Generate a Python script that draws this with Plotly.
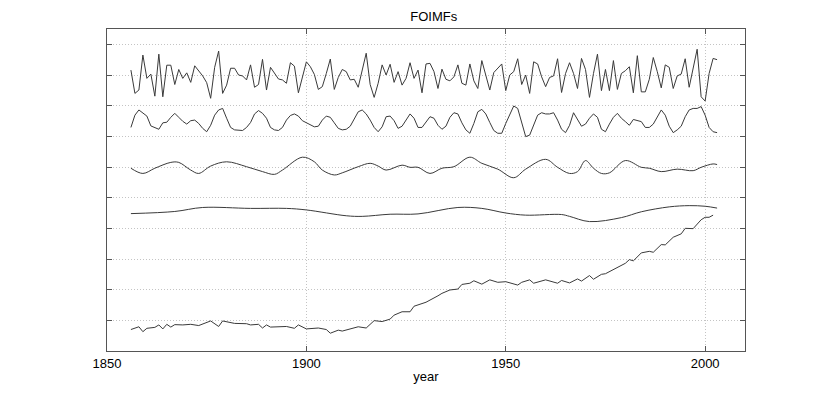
import plotly.graph_objects as go

# years of the annual series
years = list(range(1856, 2004))

# первая мода (самая высокочастотная), 1856-2003
imf1 = [
    9.16, 8.40, 8.51, 9.65,
    8.89, 9.03, 8.31, 9.68, 8.29, 9.32, 9.32, 8.69, 9.18, 8.89,
    9.07, 8.76, 9.30, 9.14, 8.97, 8.75, 8.24, 9.25, 9.78, 8.40,
    8.67, 9.22, 9.22, 9.00, 8.97, 8.84, 9.33, 8.60, 8.69, 9.51,
    8.51, 9.25, 9.05, 8.87, 8.84, 8.73, 9.40, 9.29, 8.42, 8.97,
    9.43, 9.27, 9.02, 8.53, 8.62, 9.05, 9.52, 8.53, 8.92, 9.18,
    9.11, 8.84, 8.86, 8.60, 9.18, 9.71, 8.69, 8.27, 8.73, 9.33,
    9.00, 9.35, 8.76, 9.11, 8.67, 8.89, 9.40, 8.89, 9.16, 8.42,
    9.36, 9.38, 9.11, 8.56, 9.19, 8.86, 8.81, 8.94, 9.33, 8.73,
    8.67, 9.36, 8.81, 8.56, 9.47, 8.94, 8.51, 9.08, 9.22, 9.36,
    8.49, 9.00, 9.11, 9.53, 8.69, 9.00, 8.40, 9.43, 9.36, 8.94,
    8.62, 8.92, 8.97, 9.53, 8.43, 9.05, 9.40, 9.05, 8.56, 9.54,
    9.18, 8.27, 9.05, 9.68, 8.49, 9.18, 8.49, 9.47, 8.53, 9.05,
    9.14, 9.27, 8.42, 9.63, 8.45, 8.45, 8.86, 9.57, 9.11, 8.58,
    9.33, 9.25, 8.56, 8.97, 9.03, 9.53, 8.60, 9.25, 9.84, 8.29,
    8.15, 9.05, 9.54, 9.50,
]

# вторая мода, 1856-2003
imf2 = [
    7.29, 7.69, 7.86, 7.77,
    7.66, 7.34, 7.29, 7.23, 7.44, 7.46, 7.62, 7.75, 7.62, 7.49,
    7.40, 7.51, 7.53, 7.42, 7.26, 7.15, 7.36, 7.69, 7.86, 7.91,
    7.59, 7.29, 7.21, 7.19, 7.19, 7.29, 7.45, 7.73, 7.84, 7.75,
    7.59, 7.29, 7.21, 7.19, 7.29, 7.53, 7.68, 7.73, 7.66, 7.51,
    7.44, 7.36, 7.31, 7.33, 7.53, 7.66, 7.62, 7.44, 7.26, 7.21,
    7.23, 7.33, 7.55, 7.80, 7.86, 7.73, 7.53, 7.29, 7.15, 7.31,
    7.64, 7.66, 7.51, 7.26, 7.33, 7.55, 7.73, 7.59, 7.29, 7.29,
    7.48, 7.64, 7.59, 7.36, 7.23, 7.33, 7.62, 7.77, 7.73, 7.44,
    7.21, 7.10, 7.42, 7.80, 7.88, 7.73, 7.45, 7.19, 7.10, 7.10,
    7.42, 7.69, 7.99, 7.91, 7.42, 6.99, 7.04, 7.36, 7.69, 7.77,
    7.73, 7.73, 7.77, 7.53, 7.23, 7.12, 7.36, 7.77, 7.55, 7.33,
    7.40, 7.59, 7.73, 7.62, 7.23, 7.15, 7.40, 7.62, 7.75, 7.59,
    7.48, 7.36, 7.55, 7.51, 7.48, 7.29, 7.29, 7.40, 7.62, 7.86,
    7.69, 7.33, 7.12, 7.21, 7.33, 7.64, 7.86, 7.91, 7.91, 7.97,
    7.69, 7.29, 7.15, 7.12,
]

# третья мода (гладкая)
yrs3 = [1856, 1859, 1862, 1866, 1868, 1871, 1873, 1876, 1880, 1885,
        1889, 1892, 1894, 1899, 1902, 1904, 1907, 1909, 1913, 1916,
        1918, 1920, 1924, 1926, 1928, 1931, 1934, 1937, 1941, 1944,
        1948, 1952, 1955, 1960, 1963, 1966, 1968, 1970, 1972, 1974,
        1976, 1980, 1984, 1986, 1989, 1993, 1997, 1999, 2002, 2003]
imf3 = [5.96, 5.79, 5.96, 6.15, 6.15, 5.90, 5.79, 6.03, 6.17, 6.01,
        5.85, 5.76, 5.90, 6.32, 6.17, 5.90, 5.74, 5.81, 6.01, 6.12,
        6.03, 5.90, 6.06, 5.99, 5.99, 5.79, 5.96, 6.01, 6.32, 6.12,
        5.93, 5.65, 5.93, 6.25, 5.99, 5.79, 5.85, 6.21, 5.96, 5.79,
        5.81, 6.21, 5.99, 5.96, 5.85, 5.93, 5.88, 5.99, 6.10, 6.08]

# четвёртая мода
yrs4 = [1856, 1867, 1874, 1886, 1895, 1900, 1910, 1914, 1921, 1928,
        1938, 1944, 1950, 1955, 1964, 1966, 1971, 1979, 1984, 1991,
        1996, 2000, 2003]
imf4 = [4.48, 4.55, 4.68, 4.65, 4.65, 4.60, 4.41, 4.39, 4.46, 4.47,
        4.68, 4.65, 4.50, 4.43, 4.45, 4.39, 4.22, 4.35, 4.54, 4.70,
        4.74, 4.72, 4.66]

# тренд
yrs5 = [1856, 1858, 1859, 1860, 1862, 1863, 1864, 1865, 1866, 1867,
        1869, 1871, 1873, 1876, 1878, 1879, 1882, 1885, 1886, 1888,
        1889, 1890, 1891, 1895, 1897, 1898, 1900, 1903, 1905, 1906,
        1908, 1909, 1913, 1915, 1917, 1919, 1921, 1922, 1924, 1926,
        1927, 1929, 1930, 1933, 1934, 1936, 1938, 1939, 1941, 1942,
        1944, 1946, 1948, 1950, 1953, 1954, 1956, 1957, 1960, 1963,
        1964, 1966, 1968, 1969, 1971, 1972, 1974, 1975, 1976, 1978,
        1980, 1981, 1982, 1984, 1986, 1987, 1989, 1990, 1992, 1994,
        1995, 1997, 1999, 2000, 2001, 2002]
trend = [0.70, 0.79, 0.63, 0.74, 0.77, 0.85, 0.72, 0.87, 0.78, 0.86,
         0.85, 0.87, 0.83, 0.98, 0.80, 0.98, 0.90, 0.89, 0.85, 0.87,
         0.75, 0.85, 0.78, 0.80, 0.74, 0.85, 0.72, 0.75, 0.70, 0.58,
         0.68, 0.65, 0.79, 0.75, 0.99, 0.96, 1.04, 1.17, 1.28, 1.28,
         1.46, 1.53, 1.59, 1.80, 1.88, 1.99, 2.02, 2.17, 2.21, 2.29,
         2.18, 2.32, 2.24, 2.26, 2.15, 2.24, 2.32, 2.21, 2.32, 2.21,
         2.30, 2.22, 2.35, 2.28, 2.46, 2.34, 2.50, 2.52, 2.59, 2.71,
         2.86, 2.98, 2.94, 3.20, 3.25, 3.22, 3.47, 3.46, 3.71, 3.82,
         4.00, 3.99, 4.28, 4.36, 4.36, 4.43]

x_ticks = [1850, 1900, 1950, 2000]
y_ticks = [1, 2, 3, 4, 5, 6, 7, 8, 9, 10]

line_style = dict(color="#3a3a3a", width=1)
smooth_style = dict(color="#3a3a3a", width=1, shape="spline", smoothing=1.0)

fig = go.Figure()
fig.add_trace(go.Scatter(x=years, y=imf1, mode="lines", line=line_style))
fig.add_trace(go.Scatter(x=years, y=imf2, mode="lines", line=line_style))
fig.add_trace(go.Scatter(x=yrs3, y=imf3, mode="lines", line=smooth_style))
fig.add_trace(go.Scatter(x=yrs4, y=imf4, mode="lines", line=smooth_style))
fig.add_trace(go.Scatter(x=yrs5, y=trend, mode="lines", line=line_style))

axis_common = dict(
    showline=True, linecolor="#555555", linewidth=1, mirror="ticks",
    ticks="inside", ticklen=5, tickcolor="#555555",
    showgrid=True, gridcolor="#c4c4c4", griddash="1px,2px", gridwidth=1,
    zeroline=False,
)

fig.update_layout(
    width=822, height=396,
    margin=dict(l=99, r=85, t=21, b=53),
    paper_bgcolor="white", plot_bgcolor="white",
    showlegend=False, hovermode=False,
    font=dict(family="Liberation Sans, Arial, sans-serif", size=13, color="black"),
    title=dict(text="FOIMFs", x=0.518, xanchor="center", y=1.0, yanchor="top",
               pad=dict(t=4), font=dict(size=13)),
    xaxis=dict(range=[1850, 2010], tickvals=x_ticks, ticktext=[str(v) for v in x_ticks],
               title=dict(text="year", standoff=2, font=dict(size=13)), **axis_common),
    yaxis=dict(range=[0, 10.5], tickvals=y_ticks, showticklabels=False, **axis_common),
)

fig.write_html("out.html")
